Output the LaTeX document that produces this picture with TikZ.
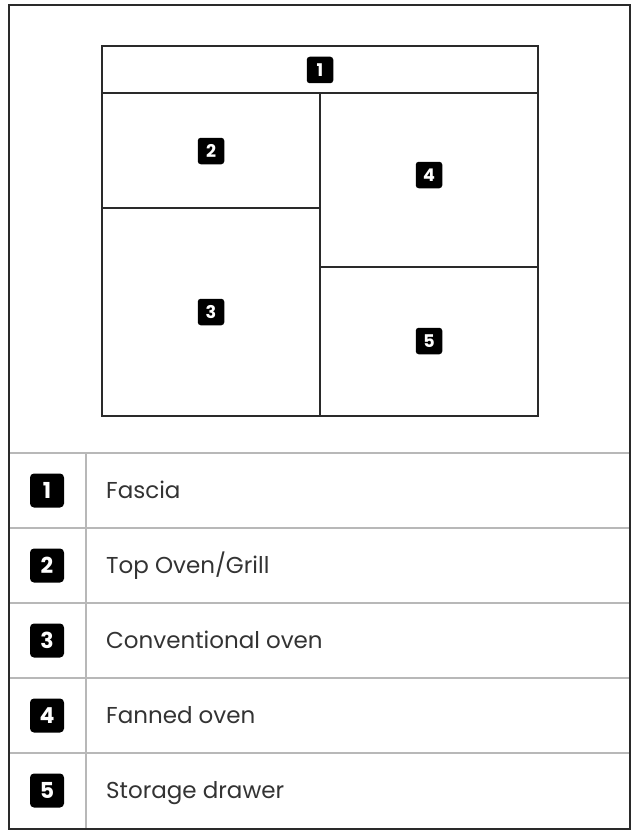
\documentclass[tikz,border=0pt]{standalone}
\usepackage{fontspec}
\setmainfont{Poppins}
\newfontfamily\badgefont{Poppins}[UprightFont=* Bold]
\definecolor{frame}{HTML}{2A2A2A}
\definecolor{rule}{HTML}{B8B8B8}
\definecolor{txt}{HTML}{333333}
\begin{document}
\begin{tikzpicture}[x=1pt,y=-1pt,
  badge/.style={fill=black,rounded corners=3pt,minimum size=26.5pt,inner sep=0pt,text=white,font=\badgefont\fontsize{17.5}{17.5}\selectfont},
  bigbadge/.style={badge,minimum size=34pt,rounded corners=4pt,font=\badgefont\fontsize{22}{22}\selectfont},
  label/.style={anchor=base west,inner sep=0pt,text=txt,font=\fontsize{23}{23}\selectfont},
  heavy/.style={draw=frame,line width=2.6pt},
  outer/.style={draw=frame,line width=2.2pt},
  thin/.style={draw=rule,line width=1.6pt}]
\useasboundingbox (0,0) rectangle (633,832);
% table rules
\foreach \yy in {453,528,603,678,753}{\draw[thin] (9,\yy) -- (630,\yy);}
\draw[thin] (86,453) -- (86,829);
% outer frame
\draw[outer] (9,5) rectangle (630,829);
% cooker outline
\draw[heavy] (102,46) rectangle (538,416);
\draw[heavy] (102,93) -- (538,93);
\draw[heavy] (320,93) -- (320,416);
\draw[heavy] (102,208) -- (320,208);
\draw[heavy] (320,267) -- (538,267);
% badges in the cooker
\node[badge] (c1) at (320,70) {1};
\node[badge] (c2) at (211,151) {2};
\node[badge] (c3) at (211,312) {3};
\node[badge] (c4) at (429,175) {4};
\node[badge] (c5) at (429,341) {5};
% legend
\node[bigbadge] (b1) at (47,490.5) {1};
\node[bigbadge] (b2) at (47,565.5) {2};
\node[bigbadge] (b3) at (47,640.5) {3};
\node[bigbadge] (b4) at (47,715.5) {4};
\node[bigbadge] (b5) at (47,790.5) {5};
\node[label] (t1) at (106,498.5) {Fascia};
\node[label] (t2) at (106,573.5) {Top Oven/Grill};
\node[label] (t3) at (106,648.5) {Conventional oven};
\node[label] (t4) at (106,723.5) {Fanned oven};
\node[label] (t5) at (106,798.5) {Storage drawer};
\end{tikzpicture}
\end{document}
